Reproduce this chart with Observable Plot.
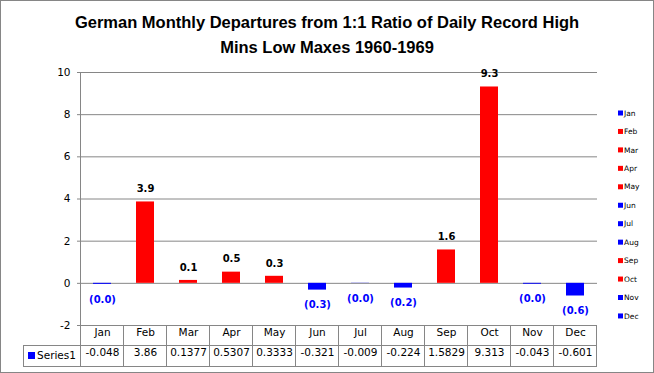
<!DOCTYPE html>
<html><head><meta charset="utf-8">
<script src="https://cdn.jsdelivr.net/npm/d3@7"></script>
<script src="https://cdn.jsdelivr.net/npm/@observablehq/plot@0.6"></script>
<style>
html,body{margin:0;padding:0;background:#fff;}
#wrap{width:652px;height:371px;border:1px solid #868686;overflow:hidden;position:relative;background:#fff;}
#title{height:60px;box-sizing:border-box;padding-top:9px;text-align:center;font-family:"Liberation Sans Narrow","Liberation Sans",Arial,sans-serif;font-weight:bold;font-size:16.5px;line-height:25px;color:#000;}
#chart svg{display:block;}
</style></head><body>
<div id="wrap"><div id="title">German Monthly Departures from 1:1 Ratio of Daily Record High<br>Mins Low Maxes 1960-1969</div><div id="chart"></div></div>
<script>
const months = ["Jan","Feb","Mar","Apr","May","Jun","Jul","Aug","Sep","Oct","Nov","Dec"];
const values = [-0.048, 3.86, 0.1377, 0.5307, 0.3333, -0.321, -0.009, -0.224, 1.5829, 9.313, -0.043, -0.601];
const yTicks = [-2, 0, 2, 4, 6, 8, 10];
const seriesName = "Series1";

const POS = "#FF0000", NEG = "#0000FF", GRAY = "#868686";
const data = months.map((m, i) => ({month: m, value: values[i]}));
const fmt = v => v >= 0 ? v.toFixed(1) : "(" + Math.abs(v).toFixed(1) + ")";

const plot = Plot.plot({
  width: 652, height: 311,
  marginLeft: 80, marginRight: 56, marginTop: 11, marginBottom: 47,
  style: {fontFamily: "'DejaVu Sans', sans-serif", fontSize: "10px", color: "#000", background: "#fff", overflow: "visible"},
  x: {domain: months, paddingInner: 0.58, paddingOuter: 0.29, axis: null},
  y: {domain: [-2, 10], axis: null},
  marks: [
    Plot.ruleY(yTicks, {stroke: GRAY, strokeWidth: 1}),
    Plot.axisY(yTicks, {tickSize: 4, tickPadding: 7, stroke: GRAY, fill: "#000", fontSize: 10.5, label: null, tickFormat: d => String(d)}),
    Plot.barY(data, {x: "month", y: "value", fill: d => d.value >= 0 ? POS : NEG}),
    Plot.text(data.filter(d => d.value >= 0), {x: "month", y: "value", text: d => fmt(d.value), dy: -13, fill: "#000", fontWeight: "bold", fontSize: 10}),
    Plot.text(data.filter(d => d.value < 0), {x: "month", y: "value", text: d => fmt(d.value), dy: 15, fill: NEG, fontWeight: "bold", fontSize: 10}),
    Plot.text(data, {x: "month", frameAnchor: "bottom", text: "month", dy: 10, fill: "#000", fontSize: 10.5}),
    Plot.text(data, {x: "month", frameAnchor: "bottom", text: d => String(d.value), dy: 30.5, fill: "#000", fontSize: 10.5})
  ]
});
document.getElementById("chart").appendChild(plot);

// table grid + axis line, positioned from Plot's own scales
const xs = plot.scale("x"), ys = plot.scale("y");
const step = xs.step;
const edge = i => xs.apply(months[0]) + xs.bandwidth / 2 - step / 2 + i * step;
const yB = ys.apply(-2), yTop = ys.apply(10);
const row1 = yB + 20, row2 = yB + 41;
const svg = d3.select(plot);
const g = svg.append("g").attr("stroke", GRAY).attr("stroke-width", 1).attr("shape-rendering", "crispEdges");
g.append("line").attr("x1", edge(0)).attr("x2", edge(0)).attr("y1", yTop).attr("y2", row2);
for (let i = 1; i <= months.length; i++) g.append("line").attr("x1", edge(i)).attr("x2", edge(i)).attr("y1", yB).attr("y2", row2);
const tl = 22;
g.append("line").attr("x1", tl).attr("x2", tl).attr("y1", row1).attr("y2", row2);
g.append("line").attr("x1", tl).attr("x2", edge(12)).attr("y1", row1).attr("y2", row1);
g.append("line").attr("x1", tl).attr("x2", edge(12)).attr("y1", row2).attr("y2", row2);
svg.append("rect").attr("x", 27).attr("y", row1 + 7).attr("width", 7).attr("height", 7).attr("fill", NEG);
svg.append("text").attr("x", 36).attr("y", row1 + 10.5).attr("dy", "0.35em").attr("text-anchor", "start").attr("font-size", 10.5).attr("fill", "#000").text(seriesName);

// right legend
const lg = svg.append("g").attr("text-anchor", "start");
months.forEach((m, i) => {
  const y = 52 + i * 18.45;
  lg.append("rect").attr("x", 617).attr("y", y - 2.5).attr("width", 5).attr("height", 5).attr("fill", values[i] >= 0 ? POS : NEG);
  lg.append("text").attr("x", 623).attr("y", y).attr("dy", "0.35em").attr("text-anchor", "start").attr("font-size", 7.5).attr("fill", "#000").text(m);
});
</script>
</body></html>
